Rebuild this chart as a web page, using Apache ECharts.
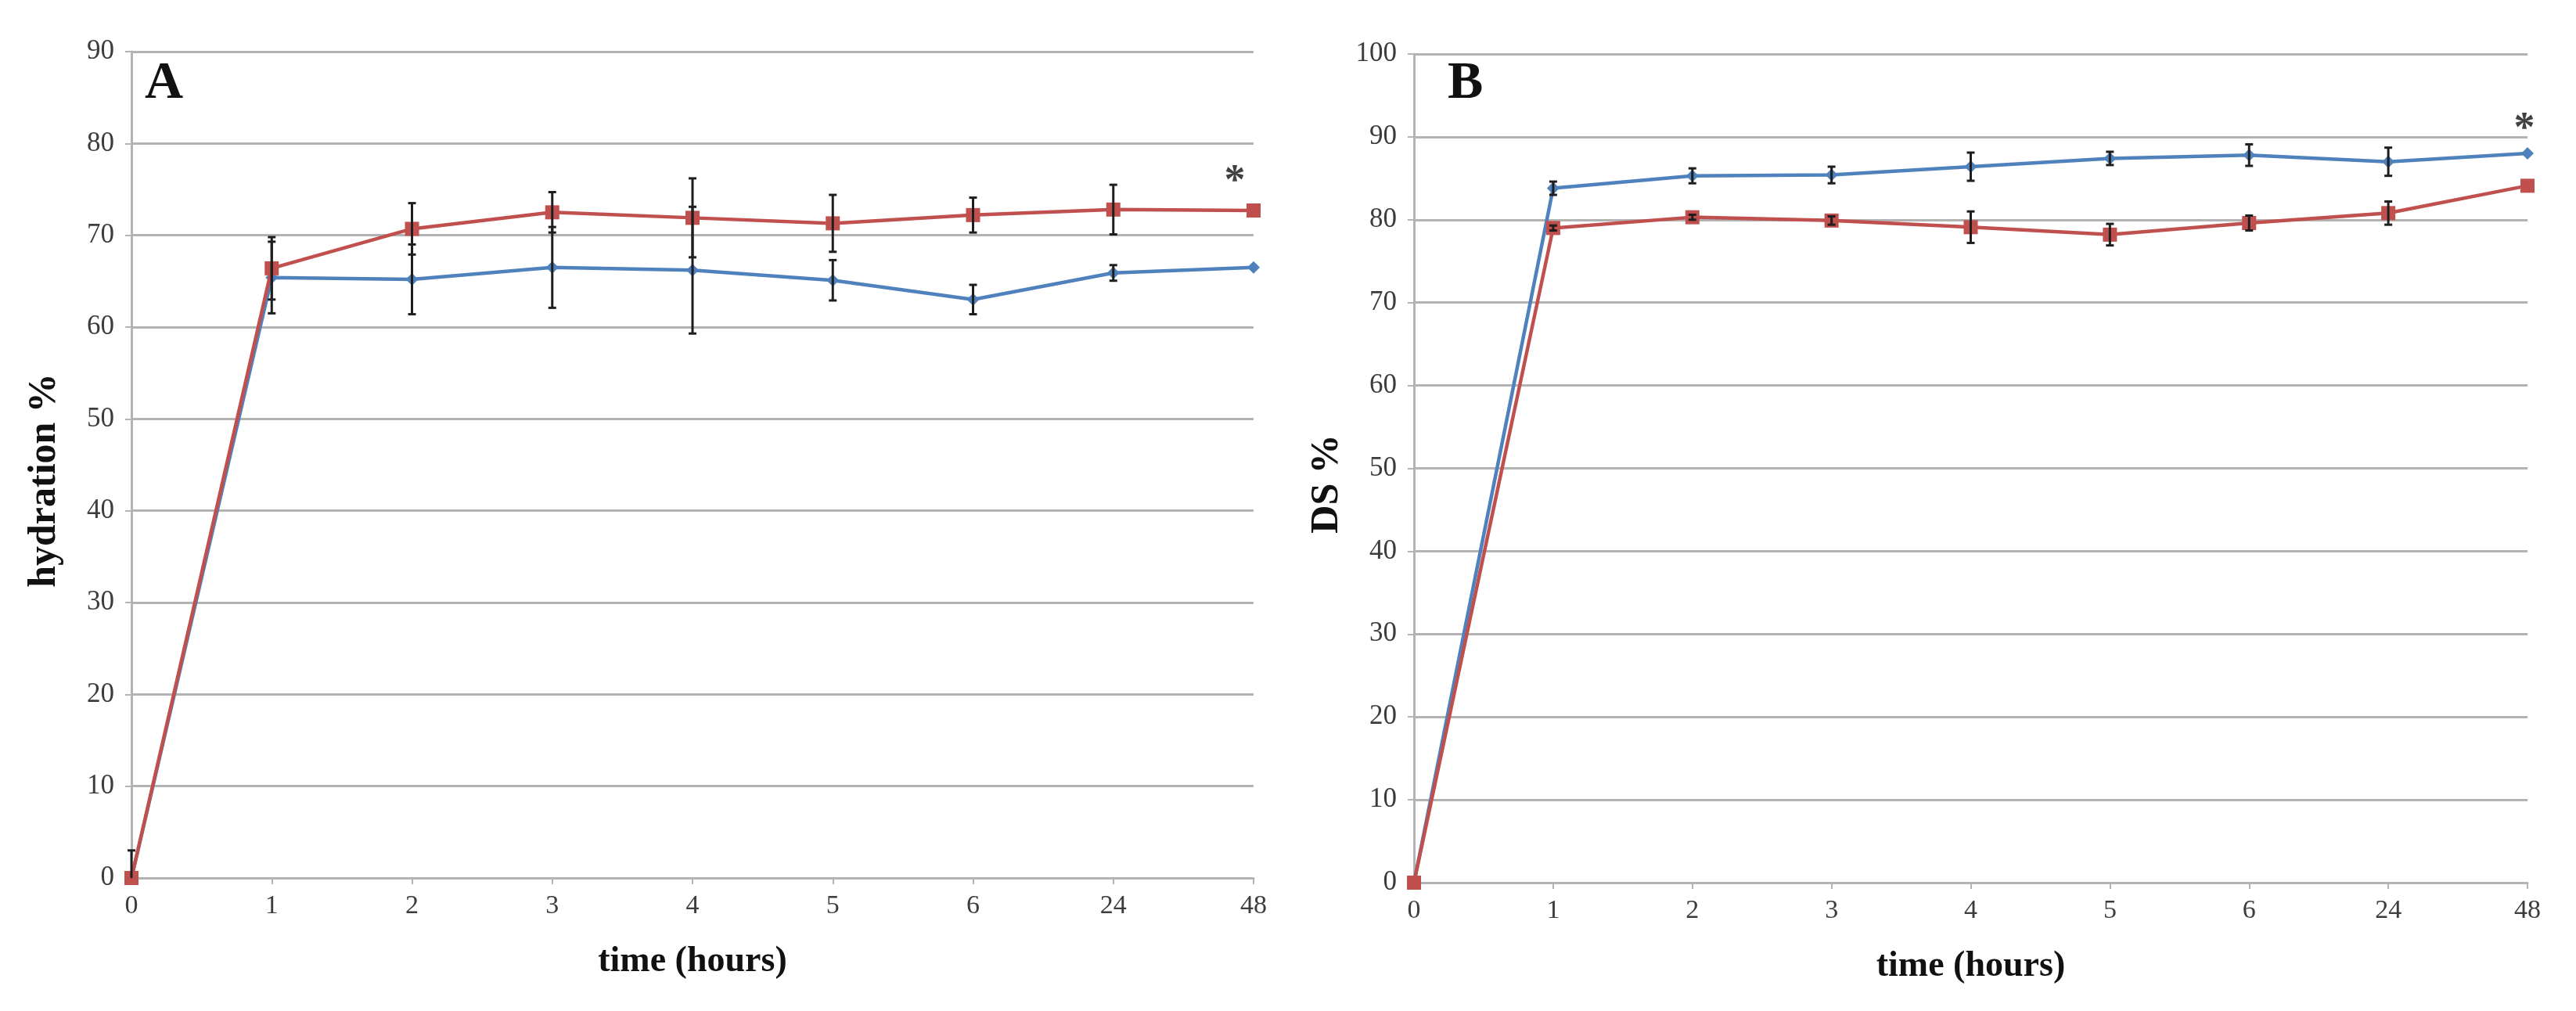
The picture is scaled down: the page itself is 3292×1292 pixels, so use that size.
<!DOCTYPE html>
<html>
<head>
<meta charset="utf-8">
<script src="https://cdn.jsdelivr.net/npm/echarts@6/dist/echarts.min.js"></script>
<style>html,body{margin:0;padding:0;background:#fff;}#c{width:3292px;height:1292px;}</style>
</head>
<body>
<div id="c"></div>
<script>
// ---------- data ----------
const categories = ['0', '1', '2', '3', '4', '5', '6', '24', '48'];
const yTicksA = [0, 10, 20, 30, 40, 50, 60, 70, 80, 90];
const yTicksB = [0, 10, 20, 30, 40, 50, 60, 70, 80, 90, 100];

// Panel A: hydration %
const hydRed      = [0, 66.4, 70.7, 72.5, 71.9, 71.3, 72.2, 72.8, 72.7];
const hydRedErr   = [0, 3.4, 2.8, 2.2, 4.3, 3.1, 1.9, 2.7, 0];
const hydBlue     = [0, 65.4, 65.2, 66.5, 66.2, 65.1, 63.0, 65.9, 66.5];
const hydBlueErr  = [3, 3.9, 3.8, 4.4, 6.9, 2.2, 1.6, 0.85, 0];

// Panel B: DS %
const dsBlue      = [0, 83.8, 85.3, 85.4, 86.4, 87.4, 87.8, 87.0, 88.0];
const dsBlueErr   = [0, 0.8, 0.9, 1.0, 1.7, 0.8, 1.3, 1.7, 0];
const dsRed       = [0, 79.0, 80.3, 79.9, 79.1, 78.2, 79.6, 80.8, 84.1];
const dsRedErr    = [0, 0.3, 0.3, 0.5, 1.9, 1.3, 0.9, 1.4, 0];

// significance markers
const starA = ['48', 76.8];
const starB = ['48', 92.0];

// ---------- styling ----------
const RED = '#C0504D';
const BLUE = '#4F81BD';
const GRID = '#b3b3b3';
const FONT = '"Liberation Serif", "Times New Roman", serif';
const TICKCOL = '#3c3c3c';

function errData(vals, errs) {
  return vals.map((v, i) => [i, v, errs[i]]);
}

function errRender(params, api) {
  const err = api.value(2);
  if (!err) return null;
  const i = api.value(0), v = api.value(1);
  const cs = params.coordSys;
  const top = api.coord([i, v + err]);
  const bot = api.coord([i, v - err]);
  const yMin = cs.y, yMax = cs.y + cs.height;
  const t = Math.max(yMin, Math.min(yMax, top[1]));
  const b = Math.max(yMin, Math.min(yMax, bot[1]));
  const x = top[0];
  const cap = 5;
  const style = { stroke: '#1e1e1e', lineWidth: 3 };
  const children = [
    { type: 'line', shape: { x1: x, y1: t, x2: x, y2: b }, style: style }
  ];
  if (top[1] >= yMin && top[1] <= yMax) children.push({ type: 'line', shape: { x1: x - cap, y1: t, x2: x + cap, y2: t }, style: style });
  if (bot[1] >= yMin && bot[1] <= yMax) children.push({ type: 'line', shape: { x1: x - cap, y1: b, x2: x + cap, y2: b }, style: style });
  return { type: 'group', children: children };
}

function xAxis(gridIndex) {
  return {
    type: 'category', gridIndex: gridIndex, data: categories, boundaryGap: false,
    axisLine: { show: true, lineStyle: { color: GRID, width: 3 } },
    axisTick: { show: true, length: 8, lineStyle: { color: GRID, width: 2 } },
    axisLabel: { color: TICKCOL, fontFamily: FONT, fontSize: 34, margin: 19 },
    splitLine: { show: false },
    name: 'time (hours)', nameLocation: 'middle', nameGap: 84,
    nameTextStyle: { color: '#111', fontFamily: FONT, fontSize: 46, fontWeight: 'bold' }
  };
}

function yAxis(gridIndex, max, ticks, title) {
  return {
    type: 'value', gridIndex: gridIndex, min: ticks[0], max: max, interval: ticks[1] - ticks[0],
    axisLine: { show: true, lineStyle: { color: GRID, width: 3 } },
    axisTick: { show: true, length: 8, lineStyle: { color: GRID, width: 2 } },
    axisLabel: { color: TICKCOL, fontFamily: FONT, fontSize: 35, margin: 22 },
    splitLine: { show: true, lineStyle: { color: GRID, width: 3 } },
    name: title, nameLocation: 'middle', nameGap: 86,
    nameTextStyle: { color: '#111', fontFamily: FONT, fontSize: 50, fontWeight: 'bold', padding: [0, 40, 0, 0] }
  };
}

function lineSeries(name, data, color, symbol, size, xi, yi, z) {
  return {
    type: 'line', name: name, data: data, xAxisIndex: xi, yAxisIndex: yi,
    symbol: symbol, symbolSize: size, showSymbol: true,
    lineStyle: { color: color, width: 4.5 },
    itemStyle: { color: color }, z: z, animation: false
  };
}

function errSeries(vals, errs, xi, yi) {
  return {
    type: 'custom', xAxisIndex: xi, yAxisIndex: yi, data: errData(vals, errs),
    renderItem: errRender, encode: { x: 0, y: 1 }, z: 10, animation: false, silent: true
  };
}

function starSeries(pt, xi, yi, dx) {
  return {
    type: 'scatter', xAxisIndex: xi, yAxisIndex: yi, data: [pt], symbolSize: 1,
    itemStyle: { color: 'rgba(0,0,0,0)' }, z: 12, animation: false, silent: true,
    label: { show: true, position: 'inside', formatter: '*', offset: [dx, 12],
             color: '#111', fontFamily: FONT, fontSize: 54, fontWeight: 'bold' }
  };
}

const chart = echarts.init(document.getElementById('c'), null, { renderer: 'canvas' });
chart.setOption({
  backgroundColor: '#ffffff',
  animation: false,
  title: [
    { text: 'A', left: 180, top: 68, textStyle: { fontFamily: FONT, fontSize: 68, fontWeight: 'bold', color: '#111' } },
    { text: 'B', left: 1845, top: 68, textStyle: { fontFamily: FONT, fontSize: 68, fontWeight: 'bold', color: '#111' } }
  ],
  grid: [
    { left: 168, top: 66, width: 1434, height: 1056 },
    { left: 1807, top: 69, width: 1423, height: 1059 }
  ],
  xAxis: [xAxis(0), xAxis(1)],
  yAxis: [yAxis(0, 90, yTicksA, 'hydration %'), yAxis(1, 100, yTicksB, 'DS %')],
  series: [
    lineSeries('A blue', hydBlue, BLUE, 'diamond', 16, 0, 0, 3),
    lineSeries('A red', hydRed, RED, 'rect', 18, 0, 0, 4),
    errSeries(hydBlue, hydBlueErr, 0, 0),
    errSeries(hydRed, hydRedErr, 0, 0),
    starSeries(starA, 0, 0, -24),
    lineSeries('B blue', dsBlue, BLUE, 'diamond', 16, 1, 1, 3),
    lineSeries('B red', dsRed, RED, 'rect', 18, 1, 1, 4),
    errSeries(dsBlue, dsBlueErr, 1, 1),
    errSeries(dsRed, dsRedErr, 1, 1),
    starSeries(starB, 1, 1, -4)
  ]
});
</script>
</body>
</html>
